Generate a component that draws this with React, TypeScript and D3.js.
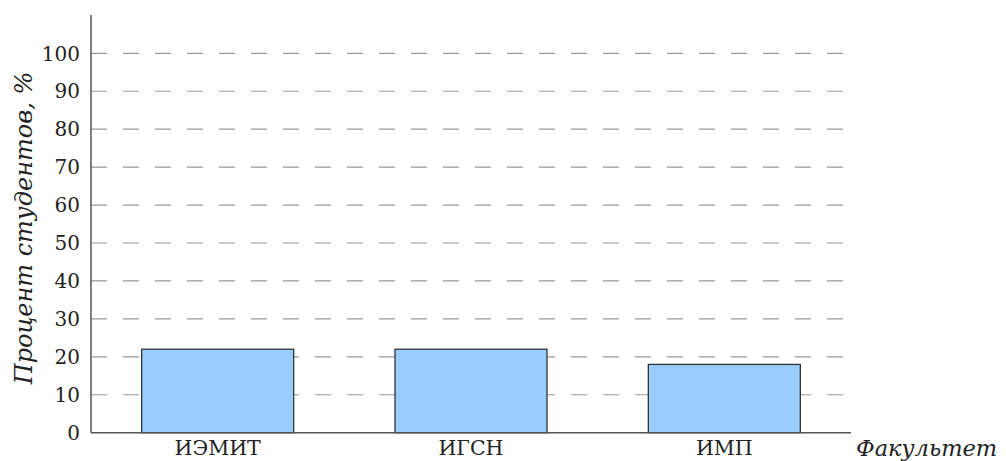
import React from 'react';
import * as d3 from 'd3';

const faculties = ['ИЭМИТ', 'ИГСН', 'ИМП'];
const percents = [22, 22, 18];
const yTicks = [0, 10, 20, 30, 40, 50, 60, 70, 80, 90, 100];

const W = 1006;
const H = 461;
const left = 91;
const right = 851;
const bottom = 432.7;
const top = 15;

const App: React.FC = () => {
  const x = d3.scaleBand<string>().domain(faculties).range([left, right]).paddingInner(0.4).paddingOuter(0.2);
  const y = d3.scaleLinear().domain([0, 100]).range([bottom, 53.3]);
  const font = 'DejaVu Serif, serif';

  return (
    <svg width={W} height={H} style={{ position: 'absolute', left: 0, top: 0 }}>
      {/* grid */}
      {yTicks.slice(1).map(t => (
        <line key={t} x1={left} x2={845} y1={y(t)} y2={y(t)} stroke="#999" strokeWidth={1.2} strokeDasharray="16,16" />
      ))}
      {/* bars */}
      {faculties.map((f, i) => (
        <rect key={f} x={x(f)} y={y(percents[i])} width={x.bandwidth()} height={bottom - y(percents[i])}
          fill="#99ccff" stroke="#333" strokeWidth={1.3} />
      ))}
      {/* axes */}
      <line x1={left} x2={left} y1={top} y2={bottom} stroke="#555" strokeWidth={1.5} />
      <line x1={left} x2={right} y1={bottom} y2={bottom} stroke="#555" strokeWidth={1.5} />
      {yTicks.map(t => (
        <text key={t} x={80} y={y(t)} dy="0.36em" textAnchor="end" fontFamily={font} fontSize={20} fill="#222">{t}</text>
      ))}
      {faculties.map(f => (
        <text key={f} x={x(f)! + x.bandwidth() / 2} y={455} textAnchor="middle" fontFamily={font} fontSize={20.5} fill="#222">{f}</text>
      ))}
      <text x={856} y={456} fontFamily={font} fontStyle="italic" fontSize={22.5} fill="#222">Факультет</text>
      <text transform={`translate(32,228) rotate(-90)`} textAnchor="middle" fontFamily={font} fontStyle="italic" fontSize={24} fill="#222">Процент студентов, %</text>
    </svg>
  );
};

export default App;
